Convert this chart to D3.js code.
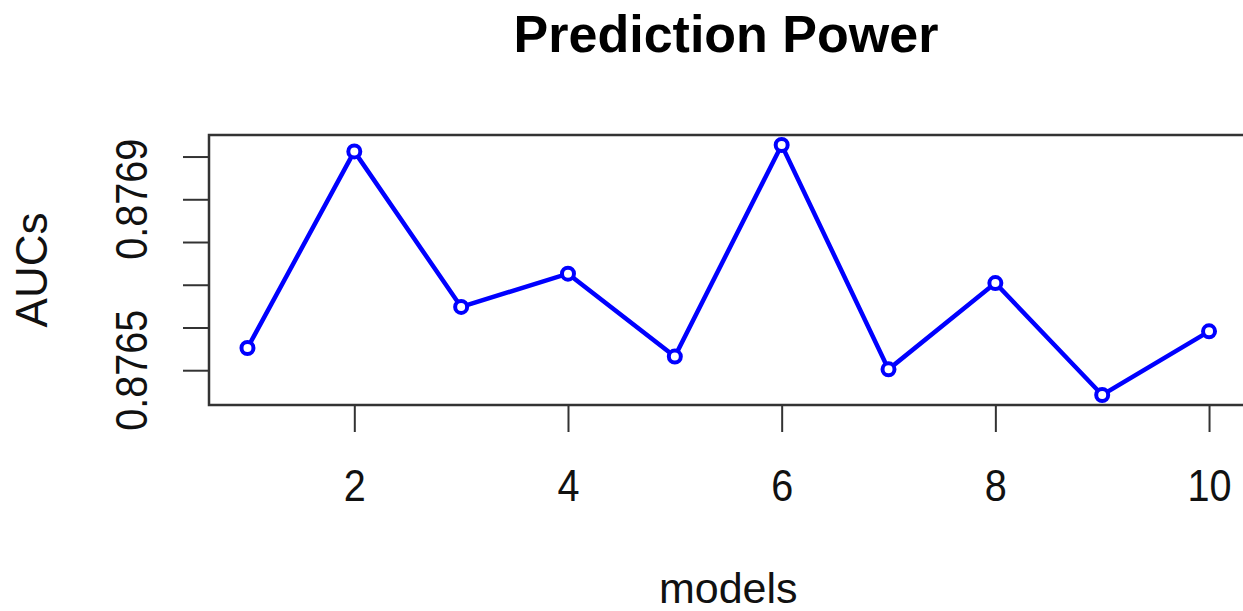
<!DOCTYPE html>
<html>
<head>
<meta charset="utf-8">
<script src="https://cdn.jsdelivr.net/npm/d3@7"></script>
<style>
  body { margin: 0; background: #fff; }
  text { font-family: "Liberation Sans", Arial, sans-serif; fill: #000; }
</style>
</head>
<body>
<div id="chart"></div>
<script>
// data
const models = [1, 2, 3, 4, 5, 6, 7, 8, 9, 10];
const aucs = [0.876552, 0.877012, 0.876648, 0.876726, 0.876532,
              0.877027, 0.876502, 0.876704, 0.876442, 0.876591];
const xTicks = [2, 4, 6, 8, 10];
const yTicks = [0.8765, 0.8766, 0.8767, 0.8768, 0.8769, 0.8770];
const yLabelled = [0.8765, 0.8769]; // R drops the overlapping ones

const W = 1243, H = 611;
const plot = { left: 209, right: 1247.5, top: 135, bottom: 405 };

const svg = d3.select('#chart').append('svg')
  .attr('width', W)
  .attr('height', H);

// R style 4% padding on both ends
const pad = (lo, hi) => [lo - (hi - lo) * 0.04, hi + (hi - lo) * 0.04];
const xScale = d3.scaleLinear()
  .domain(pad(d3.min(models), d3.max(models)))
  .range([plot.left, plot.right]);
const yScale = d3.scaleLinear()
  .domain(pad(d3.min(aucs), d3.max(aucs)))
  .range([plot.bottom, plot.top]);

const axisColor = '#333';

// x axis ticks + labels
const xAxisGroup = svg.append('g')
  .attr('transform', `translate(0,${plot.bottom})`)
  .call(d3.axisBottom(xScale).tickValues(xTicks).tickSize(27).tickPadding(38).tickFormat(d3.format('d')));
xAxisGroup.select('.domain').remove();
xAxisGroup.selectAll('.tick line').attr('stroke', axisColor).attr('stroke-width', 2);
xAxisGroup.selectAll('text')
  .style('font-size', '44px')
  .style('fill', '#111')
  .attr('transform', 'scale(0.9,1)')
  .attr('dy', '0.71em');

// y axis ticks
const yAxisGroup = svg.append('g')
  .attr('transform', `translate(${plot.left},0)`)
  .call(d3.axisLeft(yScale).tickValues(yTicks).tickSize(26).tickFormat(''));
yAxisGroup.select('.domain').remove();
yAxisGroup.selectAll('.tick line').attr('stroke', axisColor).attr('stroke-width', 2);

// rotated y tick labels
svg.selectAll('.y-label')
  .data(yLabelled)
  .join('text')
  .attr('class', 'y-label')
  .attr('transform', d => `translate(147,${yScale(d)}) rotate(-90) scale(0.9,1)`)
  .attr('text-anchor', 'middle')
  .style('font-size', '44px')
  .style('fill', '#111')
  .text(d => d3.format('.4f')(d));

// box
svg.append('rect')
  .attr('x', plot.left)
  .attr('y', plot.top)
  .attr('width', plot.right - plot.left)
  .attr('height', plot.bottom - plot.top)
  .attr('fill', 'none')
  .attr('stroke', axisColor)
  .attr('stroke-width', 2.5);

// line
const line = d3.line()
  .x((d, i) => xScale(models[i]))
  .y(d => yScale(d));

svg.append('path')
  .datum(aucs)
  .attr('d', line)
  .attr('fill', 'none')
  .attr('stroke', '#0000ff')
  .attr('stroke-width', 4.5);

// points
svg.selectAll('.pt')
  .data(aucs)
  .join('circle')
  .attr('class', 'pt')
  .attr('cx', (d, i) => xScale(models[i]))
  .attr('cy', d => yScale(d))
  .attr('r', 6)
  .attr('fill', '#fff')
  .attr('stroke', '#0000ff')
  .attr('stroke-width', 4);

// titles
svg.append('text')
  .attr('x', 726)
  .attr('y', 52)
  .attr('text-anchor', 'middle')
  .style('font-size', '52px')
  .style('font-weight', 'bold')
  .text('Prediction Power');

svg.append('text')
  .attr('x', (plot.left + plot.right) / 2)
  .attr('y', 603)
  .attr('text-anchor', 'middle')
  .style('font-size', '43px')
  .style('fill', '#111')
  .text('models');

svg.append('text')
  .attr('transform', `translate(47,${(plot.top + plot.bottom) / 2}) rotate(-90)`)
  .attr('text-anchor', 'middle')
  .style('font-size', '44px')
  .style('fill', '#111')
  .text('AUCs');
</script>
</body>
</html>
